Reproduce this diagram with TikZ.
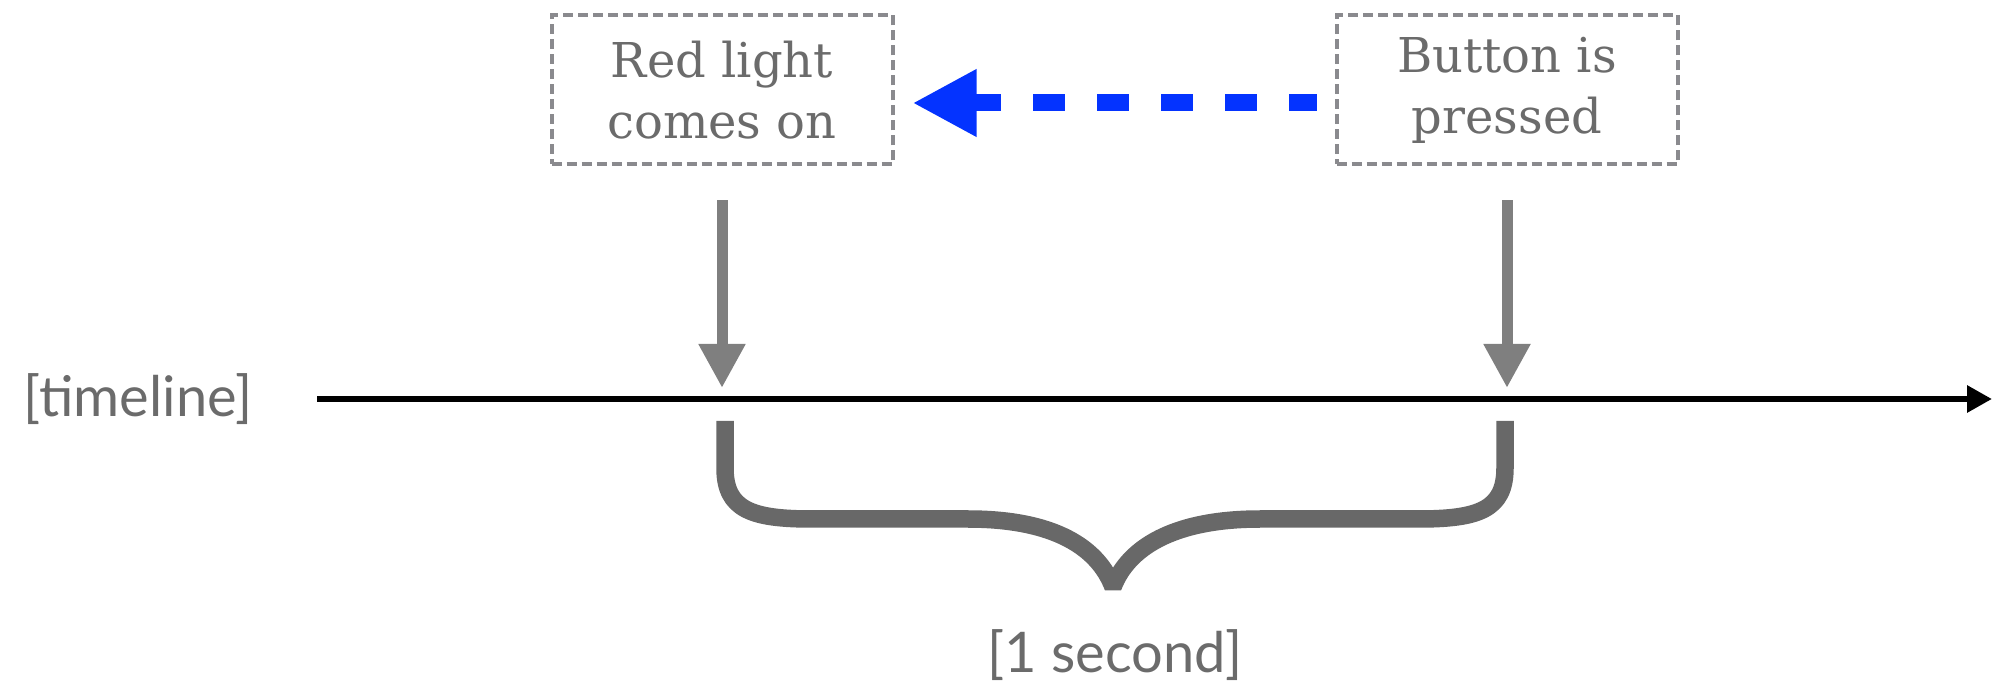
\documentclass[tikz,border=0pt]{standalone}
\usepackage{fontspec}
\usepackage{tikz}
\usetikzlibrary{arrows.meta,positioning}
\newfontfamily\typefont{DejaVu Serif}
\newfontfamily\labelfont{Lato}
\definecolor{diagram-text-grey}{HTML}{6b6b6b}
\definecolor{diagram-frame-grey}{HTML}{8a8a8e}
\definecolor{diagram-arrow-grey}{HTML}{7f7f7f}
\definecolor{diagram-brace-grey}{HTML}{686868}
\definecolor{diagram-signal-blue}{HTML}{0433ff}

\begin{document}
\begin{tikzpicture}[x=0.5pt, y=-0.5pt, node distance=222pt]
  \tikzstyle{event}=[draw=diagram-frame-grey, line width=2pt, dash pattern=on 5pt off 2.5pt,
    minimum width=170.5pt, minimum height=74.5pt, inner sep=0pt, outer sep=0pt, align=center,
    text=diagram-text-grey, font=\typefont\fontsize{24}{30.5}\selectfont]
  \tikzstyle{caption}=[inner sep=0pt, text=diagram-text-grey, font=\labelfont\fontsize{28}{34}\selectfont]
  \tikzstyle{drop}=[-{Triangle[length=22pt,width=22pt]}, line width=5.5pt, diagram-arrow-grey,
    shorten <=18pt, shorten >=5.5pt]
  \tikzstyle{cause}=[-{Triangle[length=32pt,width=31.5pt]}, line width=8.5pt, diagram-signal-blue,
    dash pattern=on 16pt off 16pt, dash phase=2pt, shorten <=10pt, shorten >=10pt]

  \useasboundingbox (0,0) rectangle (2004,689);

  %% Events
  \node[event] (red)                 at (722,90) {Red light\\comes on};
  \node[event] (btn) [right=of red]              {Button is\\pressed};

  %% Timeline
  \node[caption] (tl) at (138,399) {[timeline]};
  \coordinate (t0)   at (317,399);
  \coordinate (tend) at (1992,399);
  \draw[-{Triangle[length=12.5pt,width=13pt]}, line width=3pt] (t0) -- (tend);

  %% Event arrows
  \path[drop]
    (red) edge (red |- t0)
    (btn) edge (btn |- t0);

  %% Cause arrow
  \draw[cause] ([yshift=-6.5pt]btn.west) -- ([yshift=-6.5pt]red.east);

  %% Duration brace
  \draw[diagram-brace-grey, line width=8.75pt, line join=bevel]
    (725,421) -- (725,468) .. controls (725,510) and (752,519) .. (812,519) -- (968,519)
    .. controls (1055,519) and (1098,548) .. (1113,587)
    .. controls (1128,548) and (1173,519) .. (1260,519) -- (1418,519)
    .. controls (1478,519) and (1505,510) .. (1505,468) -- (1505,421);
  \node[caption] (dur) at (1115,655) {[1 second]};
\end{tikzpicture}
\end{document}
